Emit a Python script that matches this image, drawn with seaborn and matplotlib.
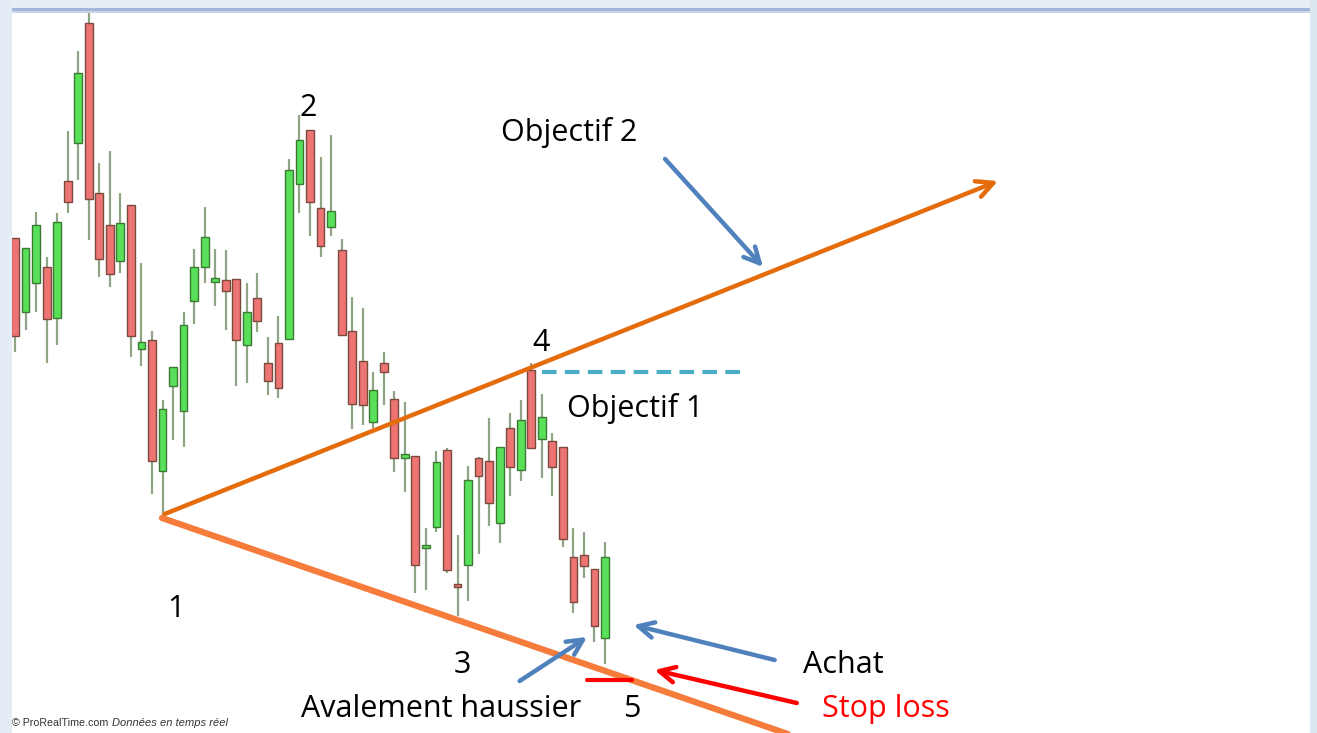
import numpy as np
import pandas as pd
import seaborn as sns
import matplotlib
matplotlib.use("Agg")
from matplotlib import pyplot as plt
from matplotlib.patches import Rectangle

# --- data (prices) ---
opens = [49.5, 42.1, 45.0, 46.6, 41.5, 55.2, 59.0, 71.0, 54.0, 50.8,
         47.2, 52.8, 38.4, 39.3, 26.2, 34.7, 32.2, 43.2, 46.6, 45.1,
         45.3, 45.4, 38.8, 43.5, 37.0, 39.0, 39.4, 54.9, 60.3, 52.5,
         50.6, 48.3, 40.2, 37.2, 31.1, 37.0, 33.4, 27.5, 27.7, 18.5,
         20.6, 28.3, 14.9, 16.8, 27.5, 27.2, 21.0, 30.5, 26.3, 36.3,
         29.4, 29.2, 28.6, 17.6, 17.8, 16.4, 9.5]
highs = [49.5, 48.5, 52.1, 47.6, 52.0, 60.2, 68.2, 72.1, 57.0, 58.2,
         54.0, 52.8, 47.0, 40.2, 33.3, 36.6, 42.1, 48.4, 52.6, 48.4,
         48.3, 45.4, 45.0, 46.0, 39.6, 41.7, 57.4, 61.8, 60.3, 57.6,
         59.8, 49.4, 43.6, 42.5, 36.1, 38.1, 34.2, 33.1, 27.7, 20.5,
         28.2, 28.5, 19.8, 26.7, 27.6, 31.5, 28.6, 32.0, 33.3, 37.0,
         33.9, 30.0, 28.6, 20.5, 20.1, 16.4, 19.1]
lows = [38.1, 40.3, 42.1, 37.0, 38.8, 52.0, 55.3, 49.3, 45.6, 44.6,
        46.0, 37.6, 36.7, 23.9, 21.5, 29.3, 28.6, 40.9, 45.0, 42.7,
        40.3, 34.7, 35.0, 40.1, 33.8, 33.5, 39.4, 52.0, 49.7, 47.6,
        49.7, 39.8, 30.4, 30.8, 30.5, 32.8, 26.1, 24.1, 14.0, 14.3,
        20.1, 16.0, 11.7, 13.2, 17.9, 20.7, 19.0, 23.7, 25.2, 28.5,
        25.5, 23.7, 18.6, 12.0, 15.5, 9.1, 6.9]
closes = [39.7, 48.5, 50.8, 41.4, 51.1, 53.1, 66.0, 53.4, 47.4, 45.9,
          51.0, 39.7, 39.1, 27.2, 32.4, 36.6, 40.8, 46.6, 49.6, 45.5,
          44.2, 39.3, 42.1, 41.2, 35.2, 34.5, 56.3, 59.3, 53.1, 48.7,
          52.2, 39.8, 32.9, 32.8, 34.3, 36.1, 27.5, 27.9, 16.8, 18.8,
          27.1, 16.3, 14.6, 25.3, 25.7, 23.0, 28.6, 26.6, 31.3, 28.5,
          31.6, 26.6, 19.4, 13.1, 16.7, 10.7, 17.6]

df = pd.DataFrame({"open": opens, "high": highs, "low": lows, "close": closes})
df["idx"] = np.arange(len(df))
df["up"] = df["close"] >= df["open"]

# --- style ---
sns.set_theme(style="white")
plt.rcParams["font.family"] = ["Open Sans", "DejaVu Sans"]

GREEN = "#58E058"
GREEN_EDGE = "#3C7A34"
RED = "#EE7474"
RED_EDGE = "#7A4A3C"
WICK = "#8DA584"
BLUE = "#4F81BD"
ORANGE = "#E46C0A"
ORANGE_LIGHT = "#F57C3A"
CYAN = "#4BACC6"

fig = plt.figure(figsize=(13.17, 7.33), dpi=100)
ax = fig.add_axes([0, 0, 1, 1])

# candle 0 sits at pixel 15, one candle every 10.536 px
x0_px, step_px = 15, 10.536
ax.set_xlim(-x0_px / step_px, (1317 - x0_px) / step_px)
ax.set_ylim(0, 73.3)
ax.axis("off")

# wicks
ax.vlines(df["idx"], df["low"], df["high"], color=WICK, lw=1.6, zorder=2)
# bodies
body_lo = np.minimum(df["open"], df["close"])
body_h = np.maximum((df["close"] - df["open"]).abs(), 0.35)
colors = np.where(df["up"], GREEN, RED)
edges = np.where(df["up"], GREEN_EDGE, RED_EDGE)
ax.bar(df["idx"], body_h, bottom=body_lo, width=0.74, color=colors,
       edgecolor=edges, linewidth=1.0, zorder=3)

# trend lines
ax.annotate("", xy=(93.3, 55.2), xytext=(14.2, 21.9),
            arrowprops=dict(arrowstyle="->", color=ORANGE, lw=3.2,
                            mutation_scale=30, shrinkA=0, shrinkB=0), zorder=4)
sns.lineplot(x=[13.95, 75.0], y=[21.5, -0.7], color=ORANGE_LIGHT, lw=4.5, ax=ax, zorder=4)
ax.plot([50.0, 69.0], [36.1, 36.1], color=CYAN, lw=3, ls=(0, (3.5, 2)), zorder=4)

# stop loss level
ax.plot([54.3, 58.6], [5.3, 5.3], color="#FF0000", lw=3, zorder=4)

def arrow(start, end, color):
    ax.annotate("", xy=end, xytext=start,
                arrowprops=dict(arrowstyle="->", color=color, lw=3.2,
                                mutation_scale=28, shrinkA=0, shrinkB=0), zorder=5)

arrow((61.7, 57.4), (71.0, 46.6), BLUE)
arrow((72.1, 7.3), (58.7, 10.8), BLUE)
arrow((47.9, 5.2), (54.3, 9.6), BLUE)
arrow((74.2, 3.0), (60.7, 6.3), "#FF0000")

fs = 22
txt = dict(ha="center", va="center", fontsize=fs, color="black", zorder=6)
ax.text(27.8, 62.5, "2", **txt)
ax.text(49.9, 39.0, "4", **txt)
ax.text(15.3, 12.4, "1", **txt)
ax.text(42.5, 6.8, "3", **txt)
ax.text(58.5, 2.4, "5", **txt)
ax.text(52.6, 60.1, "Objectif 2", **txt)
ax.text(58.9, 32.4, "Objectif 1", **txt)
ax.text(78.6, 6.8, "Achat", **txt)
ax.text(40.4, 2.4, "Avalement haussier", **txt)
ax.text(82.7, 2.4, "Stop loss", ha="center", va="center", fontsize=fs,
        color="#FF0000", zorder=6)

# footer credit
fig.text(12 / 1317, 1 - 723 / 733, "\u00a9 ProRealTime.com", fontsize=7.7,
         color="#333333", va="center", family=["Liberation Sans", "DejaVu Sans"])
fig.text(112 / 1317, 1 - 723 / 733, "Donn\u00e9es en temps r\u00e9el", fontsize=8,
         color="#333333", va="center", style="italic",
         family=["Liberation Sans", "DejaVu Sans"])

# window frame
W, H = 1317, 733
def frame(x, y, w, h, c):
    fig.patches.append(Rectangle((x / W, 1 - (y + h) / H), w / W, h / H,
                                 transform=fig.transFigure, color=c, zorder=10,
                                 lw=0))

frame(0, 0, W, 8, "#E8EEF6")
frame(0, 8, 1310, 3, "#A4B6D8")
frame(0, 11, 1310, 2, "#C9D5EA")
frame(0, 0, 12, H, "#E4ECF5")
frame(1310, 0, 7, H, "#DCE6F1")

fig.savefig("out.png", dpi=100)
